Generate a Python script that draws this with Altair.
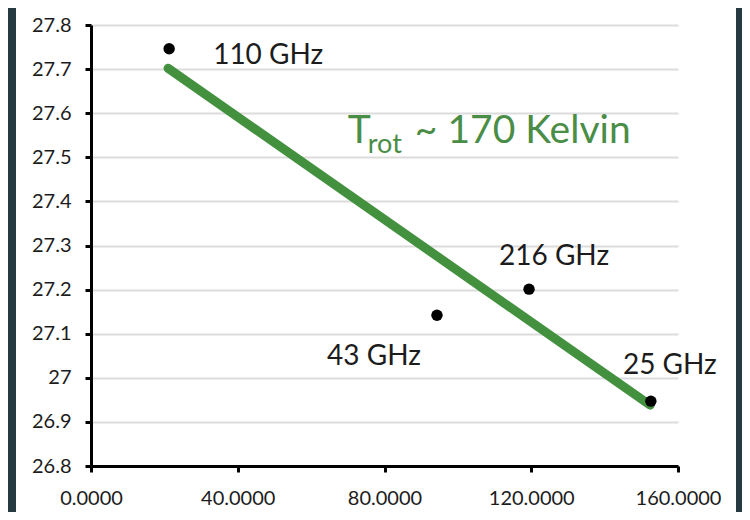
import altair as alt
import pandas as pd

# ---- data ----
freq_labels = ["110 GHz", "43 GHz", "216 GHz", "25 GHz"]
x_vals = [21.3, 94.3, 119.4, 152.6]
y_vals = [27.746, 27.142, 27.201, 26.947]

fit_x = [21.0, 152.4]
fit_y = [27.702, 26.938]

y_ticks = [26.8, 26.9, 27.0, 27.1, 27.2, 27.3, 27.4, 27.5, 27.6, 27.7, 27.8]
x_ticks = [0, 40, 80, 120, 160]

ann_main = "T"
ann_sub = "rot"
ann_rest = "~ 170 Kelvin"
ann_x = [70.0]
ann_y = [27.532]

pts = pd.DataFrame({"label": freq_labels, "x": x_vals, "y": y_vals})
fit = pd.DataFrame({"x": fit_x, "y": fit_y})
ann = pd.DataFrame({"x": ann_x, "y": ann_y})

FONT = "Lato"
GREEN = "#43913f"
TEXT_GREEN = "#4a8d46"
FRAME = "#263b41"
TXT = "#1c1c1c"

xs = alt.Scale(domain=[0, 160], nice=False, zero=False)
ys = alt.Scale(domain=[26.8, 27.8], nice=False, zero=False)

x_axis = alt.Axis(values=x_ticks, format=".4f", title=None, grid=False,
                  domainColor="black", domainWidth=3, tickColor="black",
                  tickWidth=3, tickSize=6, labelFont=FONT, labelFontSize=20,
                  labelColor=TXT, labelPadding=16, labelFlush=False,
                  labelOverlap=False, labelBound=False)
y_axis = alt.Axis(values=y_ticks, format="~g", title=None, grid=True,
                  gridColor="#dcdcdc", gridWidth=2,
                  domainColor="black", domainWidth=3, tickColor="black",
                  tickWidth=3, tickSize=6, labelFont=FONT, labelFontSize=20,
                  labelColor=TXT, labelPadding=14, labelFlush=False,
                  labelOverlap=False)

one = alt.Data(values=[{"a": 1}])

left_frame = alt.Chart(one).mark_rect(color=FRAME).encode(
    x=alt.value(-83), x2=alt.value(-75), y=alt.value(-17), y2=alt.value(487))
right_frame = alt.Chart(one).mark_rect(color=FRAME).encode(
    x=alt.value(645), x2=alt.value(651), y=alt.value(-17), y2=alt.value(487))

line = alt.Chart(fit).mark_line(color=GREEN, strokeWidth=9, strokeCap="round").encode(
    x=alt.X("x:Q", scale=xs, axis=x_axis),
    y=alt.Y("y:Q", scale=ys, axis=y_axis),
)

points = alt.Chart(pts).mark_point(filled=True, color="black", size=130, opacity=1).encode(
    x=alt.X("x:Q", scale=xs), y=alt.Y("y:Q", scale=ys))

offsets = {
    "110 GHz": (44, 15, "left"),
    "43 GHz": (-63, 50, "center"),
    "216 GHz": (25, -24, "center"),
    "25 GHz": (19, -27, "center"),
}

label_layers = []
for lab in freq_labels:
    dx, dy, al = offsets[lab]
    label_layers.append(
        alt.Chart(pts).transform_filter(alt.datum.label == lab).mark_text(
            font=FONT, fontSize=28, color=TXT, align=al,
            baseline="alphabetic", dx=dx, dy=dy,
        ).encode(x=alt.X("x:Q", scale=xs), y=alt.Y("y:Q", scale=ys), text="label:N")
    )

t_main = alt.Chart(ann).mark_text(font=FONT, fontSize=39, color=TEXT_GREEN,
                                  align="left", baseline="alphabetic").encode(
    x=alt.X("x:Q", scale=xs), y=alt.Y("y:Q", scale=ys), text=alt.value(ann_main))
t_sub = alt.Chart(ann).mark_text(font=FONT, fontSize=27, color=TEXT_GREEN,
                                 align="left", baseline="alphabetic", dx=20, dy=10).encode(
    x=alt.X("x:Q", scale=xs), y=alt.Y("y:Q", scale=ys), text=alt.value(ann_sub))
t_rest = alt.Chart(ann).mark_text(font=FONT, fontSize=39, color=TEXT_GREEN,
                                  align="left", baseline="alphabetic", dx=67).encode(
    x=alt.X("x:Q", scale=xs), y=alt.Y("y:Q", scale=ys), text=alt.value(ann_rest))

chart = alt.layer(
    left_frame, right_frame, line, points, *label_layers, t_main, t_sub, t_rest
).properties(
    width=587, height=441,
    autosize=alt.AutoSizeParams(type="none"),
    padding={"left": 83, "top": 17, "right": 64, "bottom": 46},
    background="white",
).configure_view(stroke=None)

chart.save("out.html", embed_options={"renderer": "svg", "actions": False})
